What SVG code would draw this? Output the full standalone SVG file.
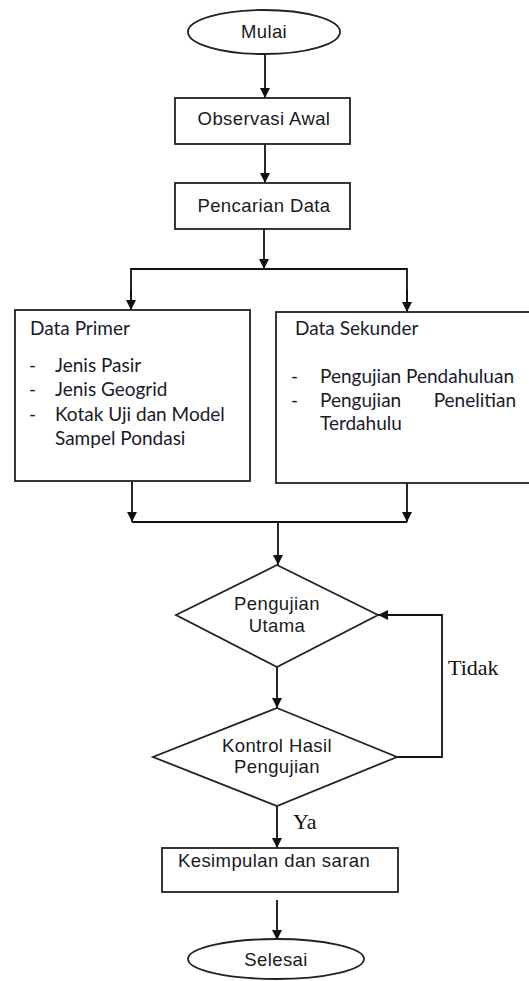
<svg xmlns="http://www.w3.org/2000/svg" width="529" height="981" viewBox="0 0 529 981">
<style>
.sh{fill:#fff;stroke:#222;stroke-width:1.8}
.ln{fill:none;stroke:#111;stroke-width:1.8}
.t{font-family:"Liberation Sans",Arial,sans-serif;font-size:18.5px;fill:#1a1a1a;letter-spacing:0.4px}
.c{font-family:"Lato","Open Sans",sans-serif;font-size:19px;fill:#1a1a2a}
.s{font-family:"Liberation Serif","Times New Roman",serif;font-size:22px;fill:#111}
</style>
<defs>
<marker id="ah" viewBox="0 0 10 10" refX="10" refY="5" markerWidth="10" markerHeight="10" markerUnits="userSpaceOnUse" orient="auto">
<path d="M0,0 L10,5 L0,10 Z" fill="#111"/>
</marker>
</defs>
<g id="connectors" class="ln">
<line x1="265" y1="54" x2="265" y2="98" marker-end="url(#ah)"/>
<line x1="265" y1="144" x2="265" y2="183" marker-end="url(#ah)"/>
<line x1="264" y1="229" x2="264" y2="269" marker-end="url(#ah)"/>
<polyline points="131,310 131,269 407,269 407,312"/>
<line x1="131" y1="290" x2="131" y2="310" marker-end="url(#ah)"/>
<line x1="407" y1="290" x2="407" y2="312" marker-end="url(#ah)"/>
<line x1="132" y1="481" x2="132" y2="522" marker-end="url(#ah)"/>
<line x1="407" y1="483" x2="407" y2="522" marker-end="url(#ah)"/>
<line x1="132" y1="522" x2="407" y2="522"/>
<line x1="278" y1="522" x2="278" y2="565" marker-end="url(#ah)"/>
<line x1="277" y1="667" x2="277" y2="708" marker-end="url(#ah)"/>
<polyline points="397,757 442,757 442,615 378,615" marker-end="url(#ah)"/>
<line x1="277" y1="806" x2="277" y2="848" marker-end="url(#ah)"/>
<line x1="277" y1="900" x2="277" y2="940" marker-end="url(#ah)"/>
</g>
<g id="mulai">
<ellipse class="sh" cx="264" cy="32" rx="76" ry="22"/>
<text class="t" x="264" y="38" text-anchor="middle">Mulai</text>
</g>
<g id="observasi">
<rect class="sh" x="175" y="98" width="175" height="46"/>
<text class="t" x="264" y="125" text-anchor="middle">Observasi Awal</text>
</g>
<g id="pencarian">
<rect class="sh" x="175" y="183" width="175" height="46"/>
<text class="t" x="264" y="212" text-anchor="middle">Pencarian Data</text>
</g>
<g id="primer">
<rect class="sh" x="15" y="310" width="235" height="171"/>
<text class="c" x="30" y="335">Data Primer</text>
<text class="c" x="29" y="372">-</text><text class="c" x="55" y="372">Jenis Pasir</text>
<text class="c" x="29" y="396">-</text><text class="c" x="55" y="396">Jenis Geogrid</text>
<text class="c" x="29" y="421">-</text><text class="c" x="55" y="421">Kotak Uji dan Model</text>
<text class="c" x="55" y="445">Sampel Pondasi</text>
</g>
<g id="sekunder">
<rect class="sh" x="276" y="312" width="270" height="171"/>
<text class="c" x="295" y="335">Data Sekunder</text>
<text class="c" x="291" y="383">-</text><text class="c" x="320" y="383">Pengujian Pendahuluan</text>
<text class="c" x="291" y="407">-</text><text class="c" x="320" y="407">Pengujian</text><text class="c" x="516" y="407" text-anchor="end">Penelitian</text>
<text class="c" x="320" y="430">Terdahulu</text>
</g>
<g id="pengujian-utama">
<polygon class="sh" points="277,565 378,615 277,667 176,615"/>
<text class="t" x="277" y="610" text-anchor="middle">Pengujian</text>
<text class="t" x="277" y="632" text-anchor="middle">Utama</text>
</g>
<g id="kontrol">
<polygon class="sh" points="277,708 397,757 277,806 153,757"/>
<text class="t" x="277" y="752" text-anchor="middle">Kontrol Hasil</text>
<text class="t" x="277" y="773" text-anchor="middle">Pengujian</text>
</g>
<g id="labels">
<text class="s" x="448" y="675">Tidak</text>
<text class="s" x="293" y="829">Ya</text>
</g>
<g id="kesimpulan">
<rect class="sh" x="162" y="848" width="236" height="44"/>
<text class="t" x="178" y="867">Kesimpulan dan saran</text>
</g>
<g id="selesai">
<ellipse class="sh" cx="276" cy="959" rx="88" ry="20"/>
<text class="t" x="276" y="966" text-anchor="middle">Selesai</text>
</g>
</svg>
